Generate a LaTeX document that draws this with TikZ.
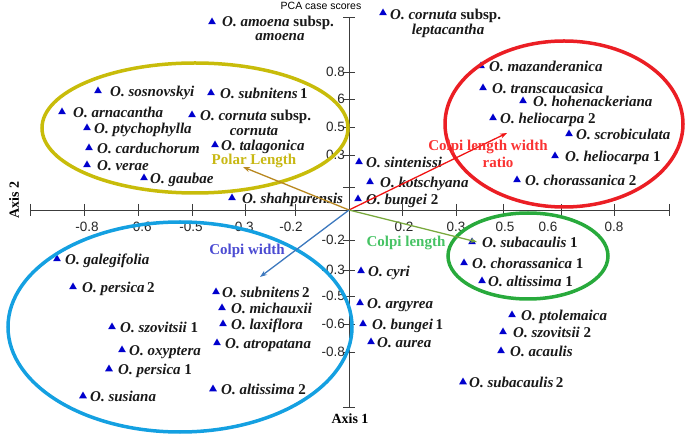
\documentclass[tikz,border=0pt]{standalone}
\usepackage{fontspec}
\setmainfont{Liberation Serif}
\setsansfont{Liberation Sans}
\usetikzlibrary{shapes.geometric,arrows.meta}
\definecolor{triblue}{RGB}{0,0,205}
\definecolor{axisgray}{RGB}{60,60,60}
\definecolor{yelell}{RGB}{200,188,10}
\definecolor{redell}{RGB}{235,30,36}
\definecolor{greenell}{RGB}{40,170,60}
\definecolor{blueell}{RGB}{20,160,225}
\definecolor{polarc}{RGB}{184,136,32}
\definecolor{polart}{RGB}{200,184,20}
\definecolor{ratioc}{RGB}{240,20,20}
\definecolor{ratiot}{RGB}{250,50,50}
\definecolor{clenc}{RGB}{120,168,60}
\definecolor{clent}{RGB}{70,195,100}
\definecolor{cwidc}{RGB}{60,120,190}
\definecolor{cwidt}{RGB}{75,75,210}
\newcommand\OO[1]{\textit{O. #1}}
\newcommand\spnode[5]{%
  \node[tri] (t#1) at (#2,#3) {};
  \node[lbl] (l#1) at (#4,#3+5.5) {#5};}
\begin{document}
\begin{tikzpicture}[x=1pt,y=-1pt,
  axis/.style={draw=axisgray,line width=0.8pt},
  tick/.style={font=\sffamily\fontsize{13.5}{14}\selectfont,inner sep=0pt,text=black!85},
  tri/.style={regular polygon,regular polygon sides=3,fill=triblue,inner sep=0pt,minimum size=9pt},
  lbl/.style={anchor=base west,inner sep=0pt,font=\fontsize{15}{15}\selectfont\bfseries,text=black!90},
  lblc/.style={anchor=base,inner sep=0pt,font=\fontsize{15}{15}\selectfont\bfseries,text=black!90},
  vlab/.style={anchor=base,inner sep=0pt,font=\fontsize{15}{15}\selectfont\bfseries},
  ell/.style={ellipse,draw,line width=3.5pt,inner sep=0pt},
  vec/.style={line width=1.3pt,-{Stealth[length=7pt,width=5pt]}}]
\useasboundingbox (0,0) rectangle (685,435);
% axes
\coordinate (O) at (349,210);
\coordinate (xL) at (30,210);
\coordinate (xR) at (669,210);
\coordinate (yT) at (349,17);
\coordinate (yB) at (349,407);
\draw[axis] (xL) -- (xR);
\draw[axis] (yT) -- (yB);
\foreach \x in {30,84,138,192,245,295,402,456,503,561,614,669}
  \draw[axis] (\x,204) -- (\x,216);
\foreach \y in {17,72,99,127,155,187,240,270,296,324,352,407}
  \draw[axis] (343,\y) -- (355,\y);
% tick labels
\foreach \x/\t [count=\i] in {87/-0.8,140/-0.6,191/-0.5,242/-0.3,291/-0.2,404/0.2,456/0.3,505/0.5,548/0.6,614/0.8}
  \node[tick] (tx\i) at (\x,227) {\t};
\foreach \y/\t [count=\i] in {72/0.8,99/6,127/0.5,155/0.3,240/-0.2,270/-0.3,296/-0.5,324/-0.6,352/-0.8}
  \node[tick,anchor=east] (ty\i) at (345,\y) {\t};
% titles
\node[font=\sffamily\fontsize{10.5}{11}\selectfont,inner sep=0pt] (title) at (321,6) {PCA case scores};
\node[font=\fontsize{14}{14}\selectfont\bfseries,inner sep=0pt] (ax1) at (350,419) {Axis 1};
\node[font=\fontsize{14}{14}\selectfont\bfseries,inner sep=0pt,rotate=90] (ax2) at (14,200) {Axis 2};
% species
\node[tri] (t1) at (212,22) {};
\node[lbl] (l1a) at (222,26.5) {\OO{amoena} subsp.};
\node[lblc] (l1b) at (280,40.5) {\textit{amoena}};
\node[tri] (t2) at (383,13) {};
\node[lbl] (l2a) at (390,19.5) {\OO{cornuta} subsp.};
\node[lblc] (l2b) at (448,35) {\textit{leptacantha}};
\spnode{3}{98}{91}{110}{\OO{sosnovskyi}}
\spnode{4}{211}{93}{220}{\OO{subnitens}\,1}
\spnode{5}{62}{112}{73}{\OO{arnacantha}}
\node[tri] (t6) at (192,115) {};
\node[lbl] (l6a) at (200,121) {\OO{cornuta} subsp.};
\node[lblc] (l6b) at (254,135.5) {\textit{cornuta}};
\spnode{7}{87}{128}{94}{\OO{ptychophylla}}
\spnode{8}{89}{148}{97}{\OO{carduchorum}}
\spnode{9}{215}{145}{221}{\OO{talagonica}}
\spnode{10}{87}{165}{97}{\OO{verae}}
\spnode{11}{144}{178}{150}{\OO{gaubae}}
\spnode{12}{232}{198}{242}{\OO{shahpurensis}}
\spnode{13}{481}{66}{489}{\OO{mazanderanica}}
\spnode{14}{483}{88}{492}{\OO{transcaucasica}}
\spnode{15}{523}{101}{533}{\OO{hohenackeriana}}
\spnode{16}{493}{118}{500}{\OO{heliocarpa} 2}
\spnode{17}{569}{134}{576}{\OO{scrobiculata}}
\spnode{18}{359}{162}{366}{\OO{sintenissi}}
\spnode{19}{555}{156}{565}{\OO{heliocarpa} 1}
\spnode{20}{370}{182}{380}{\OO{kotschyana}}
\spnode{21}{517}{180}{525}{\OO{chorassanica} 2}
\spnode{22}{358}{199}{366}{\OO{bungei} 2}
\spnode{23}{57}{259}{65}{\OO{galegifolia}}
\spnode{24}{73}{287}{82}{\OO{persica}\,2}
\spnode{25}{216}{292}{222}{\OO{subnitens}\,2}
\spnode{26}{222}{308}{231}{\OO{michauxii}}
\spnode{27}{112}{327}{120}{\OO{szovitsii} 1}
\spnode{28}{223}{324}{231}{\OO{laxiflora}}
\spnode{29}{217}{343}{225}{\OO{atropatana}}
\spnode{30}{122}{350}{129}{\OO{oxyptera}}
\spnode{31}{109}{369}{118}{\OO{persica} 1}
\spnode{32}{213}{389}{221}{\OO{altissima} 2}
\spnode{33}{83}{396}{90}{\OO{susiana}}
\spnode{34}{472}{242}{482}{\OO{subacaulis} 1}
\spnode{35}{464}{263}{472}{\OO{chorassanica} 1}
\spnode{36}{361}{271}{368}{\OO{cyri}}
\spnode{37}{482}{281}{488}{\OO{altissima} 1}
\spnode{38}{360}{303}{367}{\OO{argyrea}}
\spnode{39}{512}{315}{521}{\OO{ptolemaica}}
\spnode{40}{363}{324}{372}{\OO{bungei}\,1}
\spnode{41}{503}{332}{513}{\OO{szovitsii} 2}
\spnode{42}{371}{342}{377}{\OO{aurea}}
\spnode{43}{501}{351}{510}{\OO{acaulis}}
\spnode{44}{463}{382}{469}{\OO{subacaulis}\,2}
% ellipses
\node[ell,draw=yelell,minimum width=306pt,minimum height=130pt] (eyel) at (195,128) {};
\node[ell,draw=redell,minimum width=238pt,minimum height=166pt] (ered) at (564,124) {};
\node[ell,draw=greenell,minimum width=160pt,minimum height=86pt] (egrn) at (528,256) {};
\node[ell,draw=blueell,minimum width=344pt,minimum height=210pt] (eblu) at (180,327) {};
% vectors
\coordinate (vP) at (243,167);
\coordinate (vR) at (507,133);
\coordinate (vL) at (477,242);
\coordinate (vW) at (260,277);
\draw[vec,polarc] (O) -- (vP);
\draw[vec,ratioc] (O) -- (vR);
\draw[vec,clenc] (O) -- (vL);
\draw[vec,cwidc] (O) -- (vW);
\node[vlab,text=polart] (pl) at (254,165) {Polar Length};
\node[vlab,text=ratiot] (rl1) at (488,151) {Colpi length width};
\node[vlab,text=ratiot] (rl2) at (498,168) {ratio};
\node[vlab,text=clent] (cl) at (406,247) {Colpi length};
\node[vlab,text=cwidt] (cw) at (247,255) {Colpi width};
\end{tikzpicture}
\end{document}
